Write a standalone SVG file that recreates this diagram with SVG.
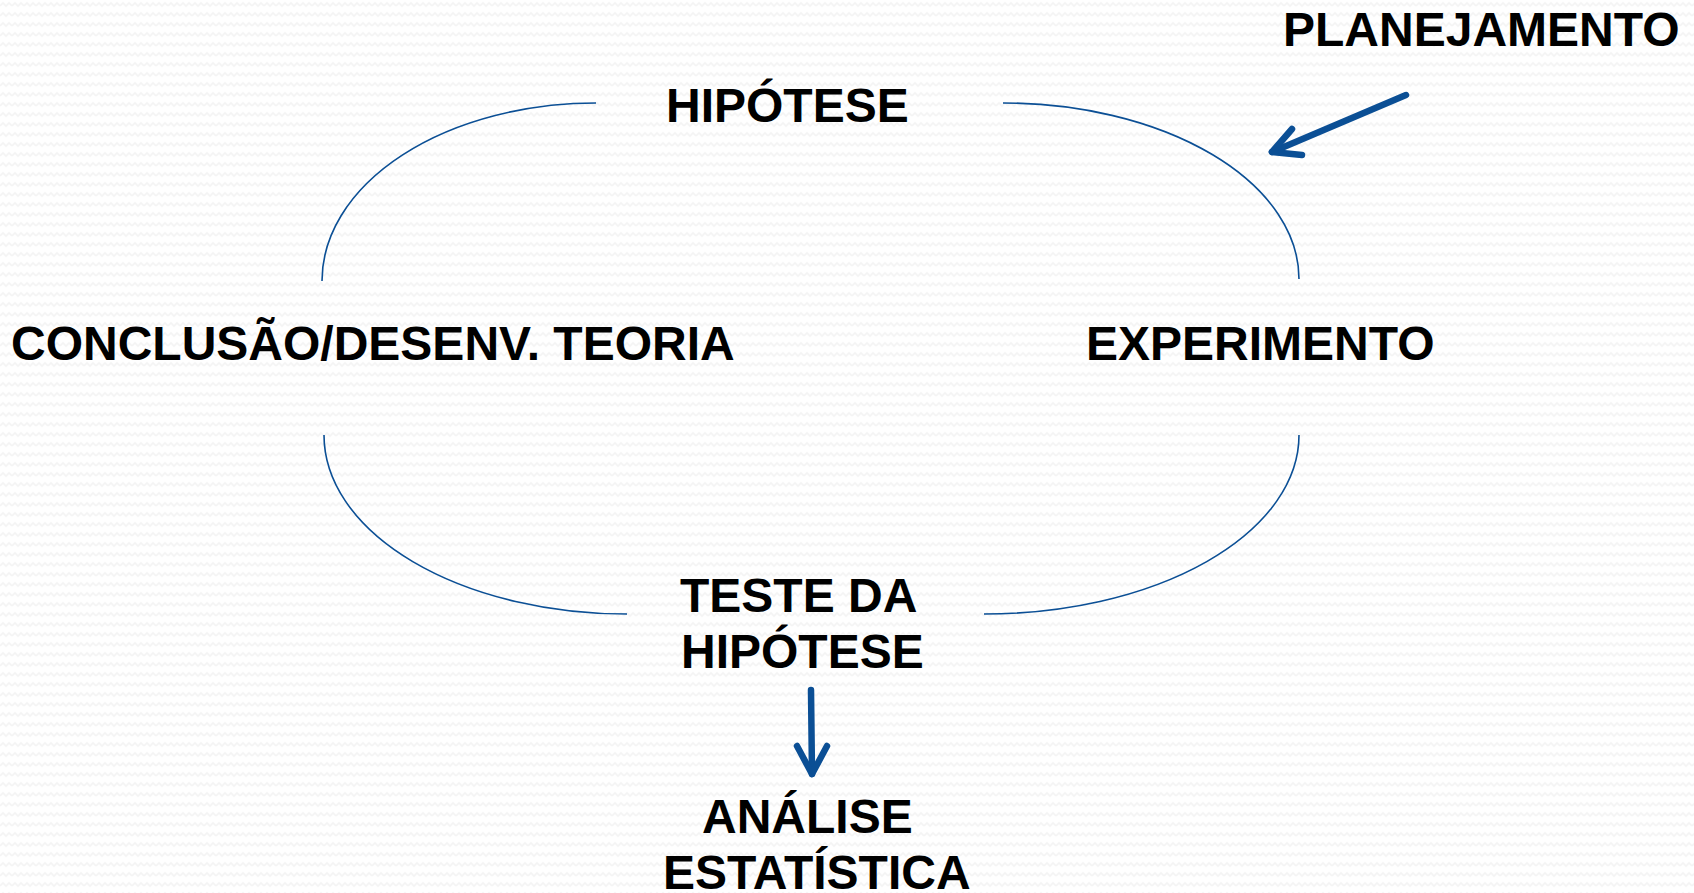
<svg xmlns="http://www.w3.org/2000/svg" width="1694" height="893" viewBox="0 0 1694 893">
<defs>
<pattern id="bg" width="12" height="10" patternUnits="userSpaceOnUse">
<rect width="12" height="10" fill="#ffffff"/>
<path d="M0 6 L3 3 L6 6 L9 3 L12 6" fill="none" stroke="#f4f4f4" stroke-width="1.6"/>
</pattern>
<style>
.lbl{font-family:"Liberation Sans",Arial,sans-serif;font-weight:bold;font-size:48px;fill:#000000}
.arc{fill:none;stroke:#0b4f95;stroke-width:1.6}
.arw{fill:none;stroke:#0b4f95;stroke-width:6.5;stroke-linecap:round;stroke-linejoin:round}
</style>
</defs>
<rect width="1694" height="893" fill="url(#bg)"/>
<g id="connectors">
<path class="arc" d="M596 103 A274 178 0 0 0 322 281"/>
<path class="arc" d="M1003 103 A296 176 0 0 1 1299 279"/>
<path class="arc" d="M324 435 A303 179 0 0 0 627 614"/>
<path class="arc" d="M984 614 A315 179 0 0 0 1299 435"/>
<g id="arrow-planejamento">
<path class="arw" d="M1406 95 L1272 152"/>
<path class="arw" d="M1292 129 L1272 152 L1302 155"/>
</g>
<g id="arrow-analise">
<path class="arw" d="M811 690 L812 774"/>
<path class="arw" d="M797 746 L812 774 L827 746"/>
</g>
</g>
<g id="node-hipotese"><text class="lbl" x="666" y="122">HIPÓTESE</text></g>
<g id="node-planejamento"><text class="lbl" x="1283" y="46">PLANEJAMENTO</text></g>
<g id="node-conclusao"><text class="lbl" x="11" y="360">CONCLUSÃO/DESENV. TEORIA</text></g>
<g id="node-experimento"><text class="lbl" x="1086" y="360">EXPERIMENTO</text></g>
<g id="node-teste"><text class="lbl" x="680" y="612">TESTE DA</text><text class="lbl" x="681" y="668">HIPÓTESE</text></g>
<g id="node-analise"><text class="lbl" x="702" y="833">ANÁLISE</text><text class="lbl" x="663" y="889">ESTATÍSTICA</text></g>
</svg>
